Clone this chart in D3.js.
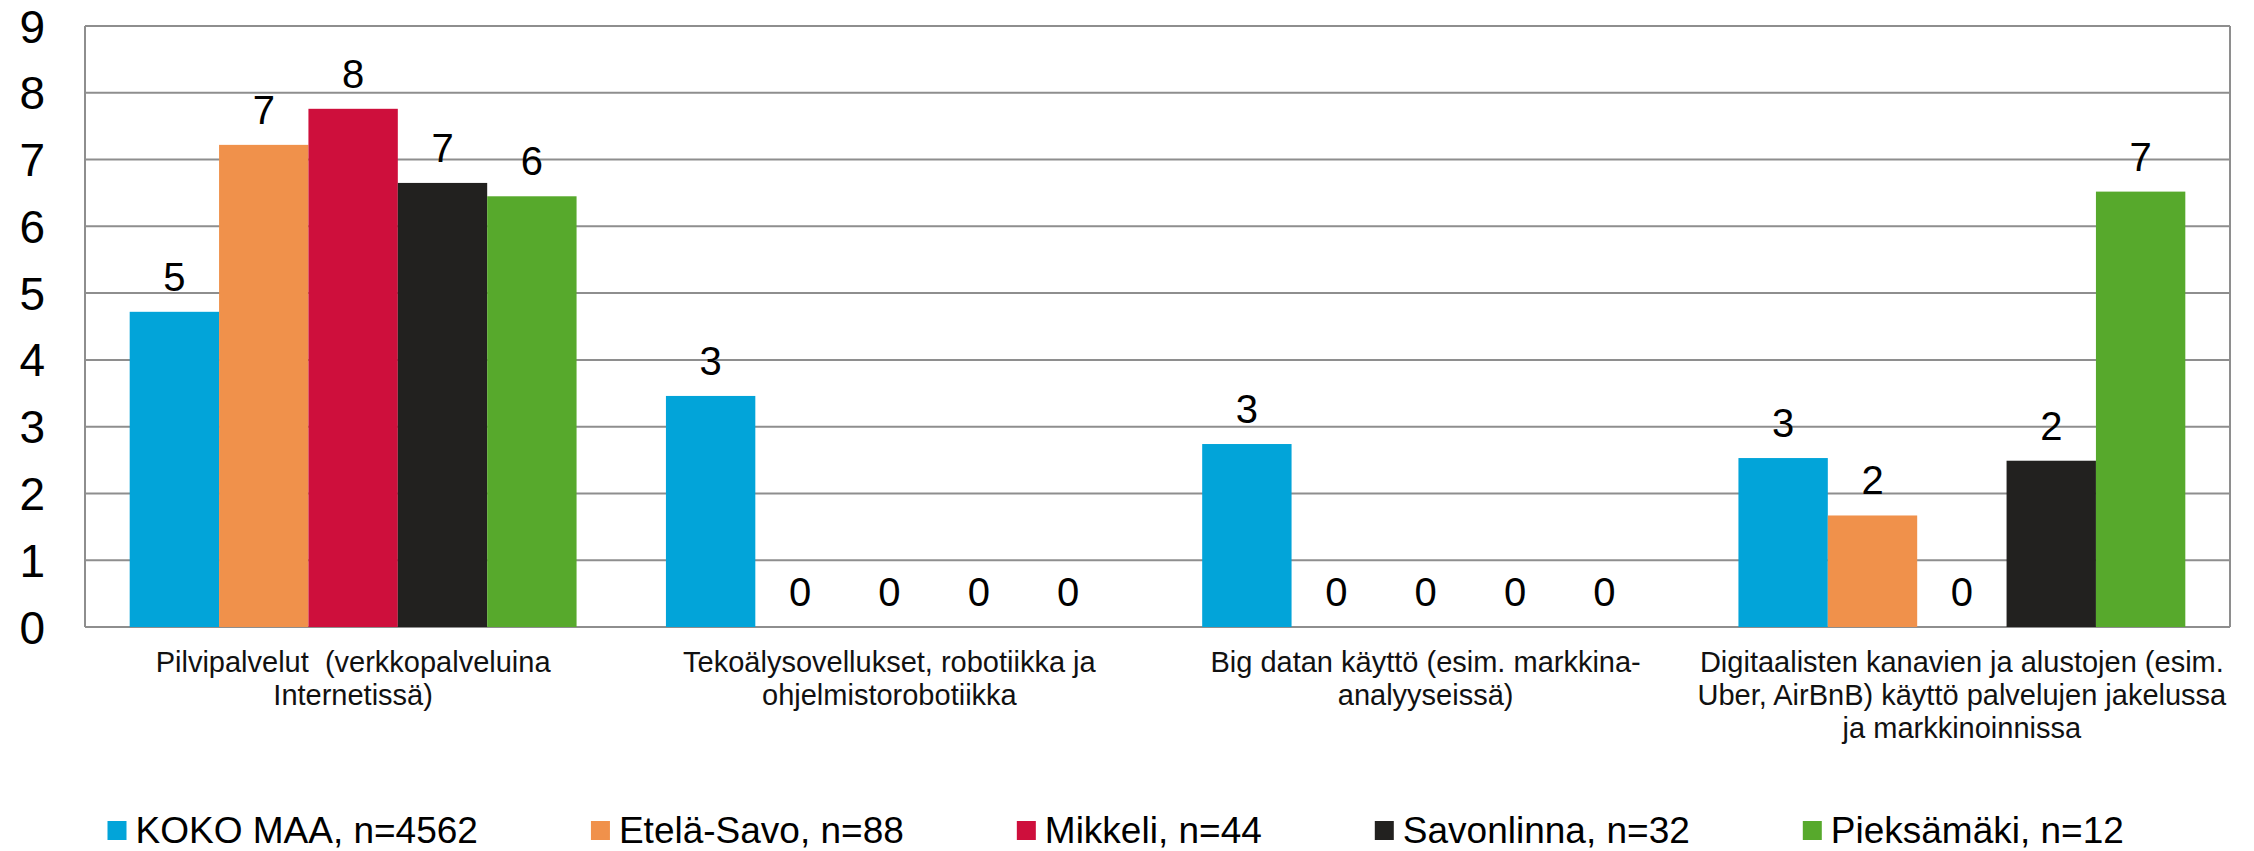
<!DOCTYPE html>
<html>
<head>
<meta charset="utf-8">
<script src="https://cdn.jsdelivr.net/npm/d3@7"></script>
<style>
  body { margin: 0; background: #fff; }
  svg { display: block; font-family: "Liberation Sans", Arial, sans-serif; }
  .cat { white-space: pre; }
</style>
</head>
<body>
<div id="chart"></div>
<script>
// categories (line breaks as in the original labels)
let categories = [
  ["Pilvipalvelut  (verkkopalveluina", "Internetissä)"],
  ["Tekoälysovellukset, robotiikka ja", "ohjelmistorobotiikka"],
  ["Big datan käyttö (esim. markkina-", "analyyseissä)"],
  ["Digitaalisten kanavien ja alustojen (esim.", "Uber, AirBnB) käyttö palvelujen jakelussa", "ja markkinoinnissa"]
];
let seriesNames = ["KOKO MAA, n=4562", "Etelä-Savo, n=88", "Mikkeli, n=44", "Savonlinna, n=32", "Pieksämäki, n=12"];
let seriesColors = ["#02a4d9", "#f0914b", "#ce0f3c", "#22211f", "#57a92c"];

// values per series, one per category
let kokoMaa    = [4.72, 3.46, 2.74, 2.53];
let etelaSavo  = [7.22, 0, 0, 1.67];
let mikkeli    = [7.76, 0, 0, 0];
let savonlinna = [6.65, 0, 0, 2.49];
let pieksamaki = [6.45, 0, 0, 6.52];

let yTicks = [0, 1, 2, 3, 4, 5, 6, 7, 8, 9];

let series = [kokoMaa, etelaSavo, mikkeli, savonlinna, pieksamaki];

let svgWidth = 2254, svgHeight = 851;
let plotLeft = 85, plotRight = 2230, plotTop = 26, plotBottom = 627;

let svg = d3.select("#chart").append("svg")
    .attr("width", svgWidth)
    .attr("height", svgHeight);

let xScale = d3.scaleBand().domain(d3.range(categories.length)).range([plotLeft, plotRight]);
let bw = xScale.bandwidth();
let x1 = d3.scaleBand().domain(d3.range(series.length)).range([bw / 12, bw - bw / 12]);
let yScale = d3.scaleLinear().domain([0, 9]).range([plotBottom, plotTop]);

// gridlines
svg.append("g")
  .selectAll("line")
  .data(yTicks)
  .enter()
  .append("line")
  .attr("x1", plotLeft)
  .attr("x2", plotRight)
  .attr("y1", d => yScale(d))
  .attr("y2", d => yScale(d))
  .attr("stroke", "#8e8e8e")
  .attr("stroke-width", 2);

// plot frame sides
svg.append("line")
  .attr("x1", plotLeft).attr("x2", plotLeft)
  .attr("y1", plotTop).attr("y2", plotBottom)
  .attr("stroke", "#8e8e8e").attr("stroke-width", 2);
svg.append("line")
  .attr("x1", plotRight).attr("x2", plotRight)
  .attr("y1", plotTop).attr("y2", plotBottom)
  .attr("stroke", "#8e8e8e").attr("stroke-width", 2);

// y tick labels
svg.append("g")
  .selectAll("text")
  .data(yTicks)
  .enter()
  .append("text")
  .attr("x", 45)
  .attr("y", d => yScale(d))
  .attr("dy", "0.36em")
  .attr("text-anchor", "end")
  .attr("font-size", 46)
  .text(d => d);

// bars
let groups = svg.append("g")
  .selectAll("g")
  .data(categories)
  .enter()
  .append("g")
  .attr("transform", (d, i) => "translate(" + xScale(i) + ",0)");

groups.selectAll("rect")
  .data((d, i) => series.map((s, j) => ({ s: j, v: s[i] })))
  .enter()
  .append("rect")
  .attr("x", d => x1(d.s))
  .attr("width", x1.bandwidth())
  .attr("y", d => yScale(d.v))
  .attr("height", d => yScale(0) - yScale(d.v))
  .attr("fill", d => seriesColors[d.s]);

groups.selectAll("text.val")
  .data((d, i) => series.map((s, j) => ({ s: j, v: s[i] })))
  .enter()
  .append("text")
  .attr("class", "val")
  .attr("x", d => x1(d.s) + x1.bandwidth() / 2)
  .attr("y", d => yScale(d.v) - 21)
  .attr("text-anchor", "middle")
  .attr("font-size", 40)
  .text(d => Math.round(d.v));

// category labels
let catText = svg.append("g")
  .selectAll("text")
  .data(categories)
  .enter()
  .append("text")
  .attr("class", "cat")
  .attr("text-anchor", "middle")
  .attr("font-size", 29)
  .attr("fill", "#111");

catText.selectAll("tspan")
  .data((d, i) => d.map(line => ({ line: line, i: i })))
  .enter()
  .append("tspan")
  .attr("x", d => xScale(d.i) + bw / 2)
  .attr("y", (d, k) => 671.5 + k * 33)
  .text(d => d.line);

// legend
let lx = 107.5;
let legend = svg.append("g");
seriesNames.forEach(function(name, i) {
  legend.append("rect")
    .attr("x", lx)
    .attr("y", 821)
    .attr("width", 19)
    .attr("height", 19)
    .attr("fill", seriesColors[i]);
  let t = legend.append("text")
    .attr("x", lx + 28)
    .attr("y", 843)
    .attr("font-size", 37)
    .text(name);
  lx += 28 + t.node().getComputedTextLength() + 113;
});
</script>
</body>
</html>
